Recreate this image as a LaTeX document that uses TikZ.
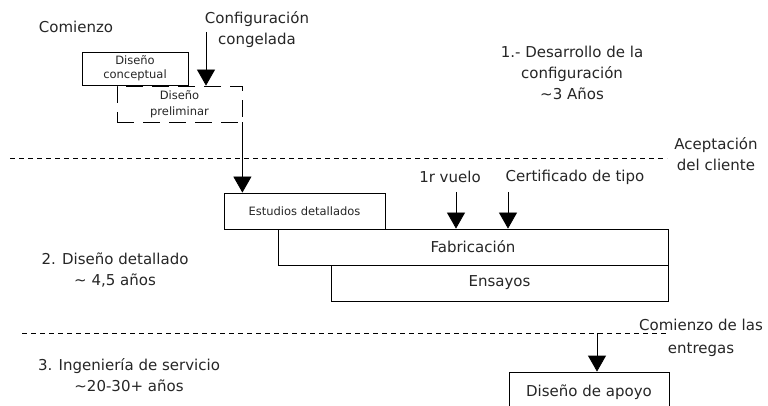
\documentclass[tikz,border=0pt]{standalone}
\usepackage{fontspec}
\setmainfont{DejaVu Sans}
\usetikzlibrary{arrows.meta}

\begin{document}
\begin{tikzpicture}[x=1pt, y=-1pt,
  caja/.style={rectangle, draw=black, line width=0.8pt, inner sep=0pt, text=black!85, font=\fontsize{15}{21}\selectfont},
  cajita/.style={caja, font=\fontsize{11.5}{16}\selectfont, align=center},
  texto/.style={align=center, text=black!85, font=\fontsize{15}{21}\selectfont},
  flecha/.style={-{Triangle[width=18pt, length=16pt]}, line width=0.8pt, draw=black},
  division/.style={line width=0.8pt, dash pattern=on 5pt off 4pt}]
\clip (0, 0) rectangle (768, 406);
\fill [white] (0, 0) rectangle (768, 406);

% fase 1
\node [texto] (comienzo) at (76, 27) {Comienzo};
\node [texto] (congelada) at (257, 30) {Configuración\\congelada};
\node [texto] (fase1) at (572, 73) {1.- Desarrollo de la\\configuración\\\textasciitilde3 Años};
\node [cajita, minimum width=106, minimum height=33] (concep) at (135, 68.5) {Diseño\\[-2pt]conceptual};
\node [cajita, dash pattern=on 17pt off 9pt, minimum width=125, minimum height=36] (prelim) at (179.5, 104) {Diseño\\preliminar};
\coordinate (cg) at (206, 32);
\draw [flecha] (cg) to (cg |- prelim.north);

% fase 2
\coordinate (d1a) at (10, 158);
\coordinate (d1b) at (667, 158);
\draw [division] (d1a) to (d1b);
\node [texto] (aceptacion) at (716, 154) {Aceptación\\del cliente};
\node [caja, font=\fontsize{11.5}{16}\selectfont, minimum width=161, minimum height=36] (estudios) at (304.5, 211) {Estudios detallados};
\node [caja, minimum width=390, minimum height=36] (fabric) at (473, 247) {Fabricación};
\node [caja, minimum width=337, minimum height=36] (ensayos) at (499.5, 283) {Ensayos};
\draw [flecha] (prelim.south east) to (prelim.south east |- estudios.north);
\node [texto] (vuelo) at (450, 177) {1r vuelo};
\node [texto] (certif) at (575, 177) {Certificado de tipo};
\coordinate (v1) at (456, 192);
\coordinate (c1) at (508, 192);
\draw [flecha] (v1) to (v1 |- fabric.north);
\draw [flecha] (c1) to (c1 |- fabric.north);
\node [texto] (fase2) at (115, 270) {2. Diseño detallado\\\textasciitilde{} 4,5 años};

% fase 3
\coordinate (d2a) at (22, 333);
\coordinate (d2b) at (667, 333);
\draw [division] (d2a) to (d2b);
\node [texto, font=\fontsize{15}{23}\selectfont] (entregas) at (701, 338) {Comienzo de las\\entregas};
\node [caja, minimum width=160, minimum height=40] (apoyo) at (589, 392) {Diseño de apoyo};
\coordinate (e1) at (597, 333);
\draw [flecha] (e1) to (e1 |- apoyo.north);
\node [texto] (fase3) at (129, 375) {3. Ingeniería de servicio\\\textasciitilde20-30+ años};
\end{tikzpicture}
\end{document}
